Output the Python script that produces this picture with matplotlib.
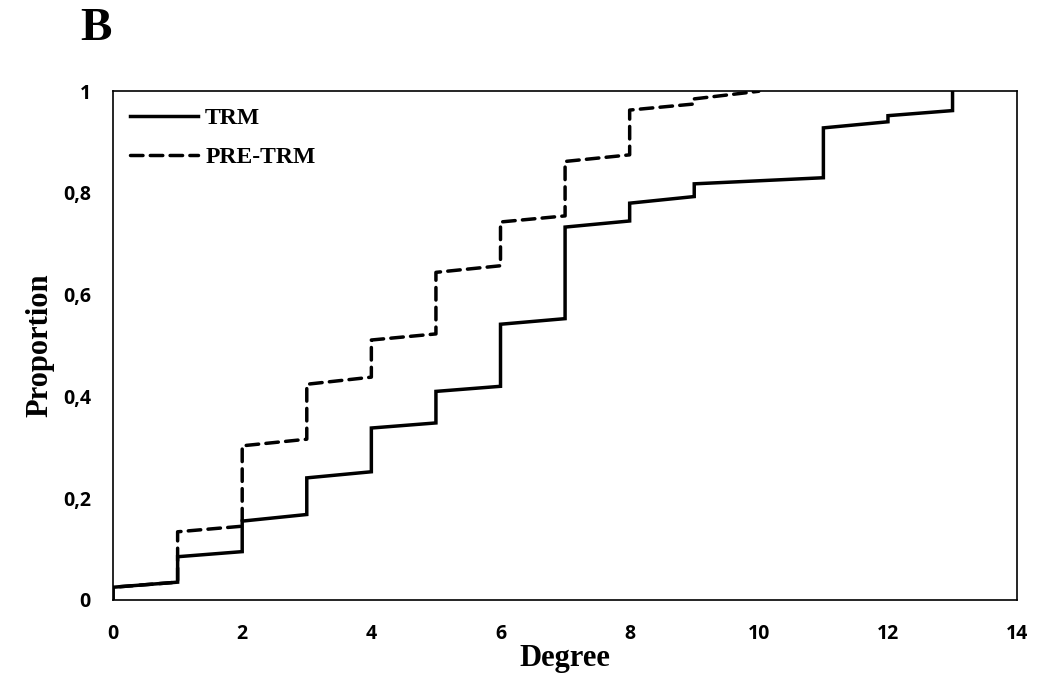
import matplotlib
matplotlib.use("Agg")
import matplotlib.pyplot as plt
from matplotlib.ticker import FuncFormatter

# Degree values where each series jumps
trm_degrees = [0, 1, 2, 3, 4, 5, 6, 7, 8, 9, 10, 11, 12, 13]
# proportion reached just before the jump at each degree
trm_before = [0.0, 0.035, 0.095, 0.168, 0.252, 0.348, 0.420, 0.553, 0.745, 0.793, 0.824, 0.830, 0.940, 0.962]
# proportion just after the jump at each degree
trm_after = [0.025, 0.085, 0.155, 0.240, 0.338, 0.410, 0.542, 0.733, 0.780, 0.818, 0.824, 0.928, 0.952, 1.000]

pre_degrees = [0, 1, 2, 3, 4, 5, 6, 7, 8, 9, 10]
pre_before = [0.0, 0.035, 0.145, 0.316, 0.438, 0.523, 0.657, 0.755, 0.875, 0.975, 1.000]
pre_after = [0.025, 0.134, 0.303, 0.424, 0.511, 0.644, 0.743, 0.862, 0.963, 0.985, 1.000]

x_ticks = [0, 2, 4, 6, 8, 10, 12, 14]
y_ticks = [0, 0.2, 0.4, 0.6, 0.8, 1.0]


def build(degs, before, after):
    xs, ys = [], []
    for d, b, a in zip(degs, before, after):
        xs += [d, d]
        ys += [b, a]
    return xs, ys


fig = plt.figure(figsize=(10.4, 6.81), dpi=100)
ax = fig.add_axes([0.1087, 0.119, 0.8693, 0.747])

tx, ty = build(trm_degrees, trm_before, trm_after)
px, py = build(pre_degrees, pre_before, pre_after)

ax.plot(px, py, color="black", lw=2.5, linestyle=(0, (3.6, 2.1)), label="PRE-TRM",
        solid_joinstyle="miter", dash_capstyle="round")
ax.plot(tx, ty, color="black", lw=2.5, label="TRM", solid_joinstyle="miter")

ax.set_xlim(0, 14)
ax.set_ylim(0, 1)
ax.set_xticks(x_ticks)
ax.set_yticks(y_ticks)

fmt = FuncFormatter(lambda v, p: ("%g" % v).replace(".", ","))
ax.yaxis.set_major_formatter(fmt)
ax.xaxis.set_major_formatter(FuncFormatter(lambda v, p: "%d" % v))

ax.tick_params(axis="both", length=0)
ax.tick_params(axis="x", pad=17)
ax.tick_params(axis="y", pad=16)
for lab in ax.get_xticklabels() + ax.get_yticklabels():
    lab.set_fontfamily("Open Sans")
    lab.set_fontweight("bold")
    lab.set_fontsize(14)

for s in ax.spines.values():
    s.set_linewidth(1.2)
    s.set_color("black")

serif = "Liberation Serif"
ax.set_xlabel("Degree", fontfamily=serif, fontweight="bold", fontsize=22, labelpad=0)
ax.set_ylabel("Proportion", fontfamily=serif, fontweight="bold", fontsize=22, labelpad=6)

handles, labels = ax.get_legend_handles_labels()
leg = ax.legend(handles[::-1], labels[::-1], loc="upper left", frameon=False,
                prop={"family": serif, "weight": "bold", "size": 17},
                handlelength=2.9, handletextpad=0.3, labelspacing=0.72,
                borderaxespad=0.3, bbox_to_anchor=(0.0, 1.0))

fig.text(0.077, 0.958, "B", fontfamily=serif, fontweight="bold", fontsize=34,
         ha="left", va="center")

fig.savefig("out.png", dpi=100)
